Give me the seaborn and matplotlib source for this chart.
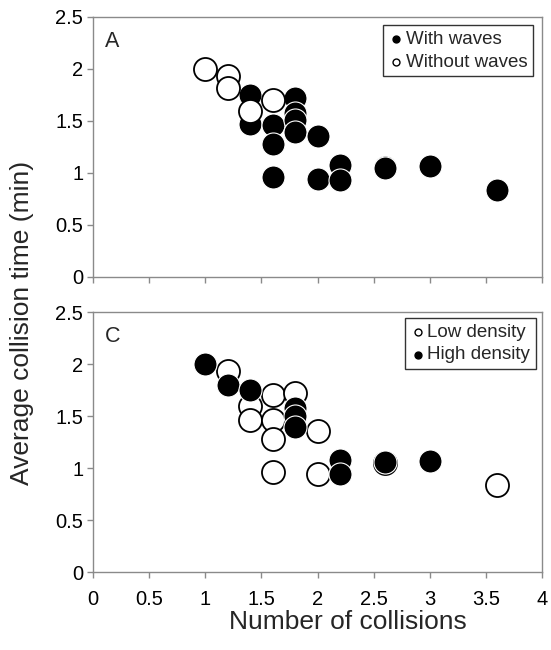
import matplotlib
matplotlib.use("Agg")
import matplotlib.pyplot as plt
import seaborn as sns
import pandas as pd

# Panel A
with_waves_x = [1.4, 1.4, 1.6, 1.6, 1.8, 1.8, 1.8, 1.8, 2.0, 1.6, 2.0, 2.2, 2.2, 2.6, 2.6, 3.0, 3.6]
with_waves_y = [1.75, 1.47, 1.46, 1.28, 1.72, 1.58, 1.51, 1.39, 1.36, 0.96, 0.94, 1.08, 0.93, 1.06, 1.05, 1.07, 0.84]
without_waves_x = [1.0, 1.2, 1.2, 1.4, 1.6]
without_waves_y = [2.0, 1.93, 1.82, 1.6, 1.7]

# Panel C
low_x = [1.2, 1.4, 1.4, 1.6, 1.6, 1.6, 1.8, 2.0, 1.6, 2.0, 2.6, 3.6]
low_y = [1.93, 1.6, 1.46, 1.7, 1.46, 1.28, 1.72, 1.36, 0.96, 0.94, 1.05, 0.84]
high_x = [1.0, 1.2, 1.4, 1.8, 1.8, 1.8, 2.2, 2.2, 2.6, 3.0]
high_y = [2.0, 1.8, 1.75, 1.58, 1.5, 1.39, 1.08, 0.94, 1.06, 1.07]

x_ticks = [0, 0.5, 1, 1.5, 2, 2.5, 3, 3.5, 4]
x_tick_labels = ["0", "0.5", "1", "1.5", "2", "2.5", "3", "3.5", "4"]
y_ticks = [0, 0.5, 1, 1.5, 2, 2.5]
y_tick_labels = ["0", "0.5", "1", "1.5", "2", "2.5"]

sns.set_theme(style="ticks")
plt.rcParams["font.family"] = ["Liberation Sans", "DejaVu Sans"]

fig = plt.figure(figsize=(5.51, 6.5), dpi=100)
W, H = 551, 650
def ax_rect(l, r, t, b):
    return [l / W, 1 - b / H, (r - l) / W, (b - t) / H]

axA = fig.add_axes(ax_rect(93, 542, 17, 277))
axC = fig.add_axes(ax_rect(93, 542, 312, 572))

S = 275
GRAY = "#8a8a8a"
TICK_FS = 14.5

def draw(ax, xs, ys, face, edge, lw, label):
    df = pd.DataFrame({"x": xs, "y": ys})
    sns.scatterplot(data=df, x="x", y="y", ax=ax, s=S, color=face,
                    edgecolor=edge, linewidth=lw, label=label, zorder=3)

draw(axA, with_waves_x, with_waves_y, "black", "white", 0.8, "With waves")
draw(axA, without_waves_x, without_waves_y, "white", "black", 1.3, "Without waves")
draw(axC, low_x, low_y, "white", "black", 1.3, "Low density")
draw(axC, high_x, high_y, "black", "white", 0.8, "High density")

for ax, lab, anchor in [(axA, "A", (0.980, 0.969)), (axC, "C", (0.9866, 0.977))]:
    ax.set_xlim(0, 4)
    ax.set_ylim(0, 2.5)
    ax.set_xticks(x_ticks)
    ax.set_yticks(y_ticks)
    ax.set_yticklabels(y_tick_labels, fontsize=TICK_FS)
    ax.set_xlabel("")
    ax.set_ylabel("")
    for sp in ax.spines.values():
        sp.set_color(GRAY)
        sp.set_linewidth(1.0)
        sp.set_visible(True)
    ax.tick_params(axis="both", direction="out", length=4, width=1.0,
                   color=GRAY, labelcolor="black", pad=3)
    ax.text(0.027, 0.945, lab, transform=ax.transAxes, fontsize=15.5,
            va="top", ha="left")
    leg = ax.legend(loc="upper right", bbox_to_anchor=anchor, borderaxespad=0,
                    fontsize=13.5, markerscale=0.3, handletextpad=0.1,
                    handlelength=0.8, borderpad=0.3, labelspacing=0.3,
                    fancybox=False, framealpha=1, edgecolor="#333333")
    leg.get_frame().set_linewidth(1.0)
    for h in leg.legend_handles:
        h.set_edgecolor("black")
        h.set_linewidth(1.0)

axA.set_xticklabels([])
axC.set_xticklabels(x_tick_labels, fontsize=TICK_FS)
axC.tick_params(axis="x", pad=9)

fig.text(348 / W, 1 - 622 / H, "Number of collisions", fontsize=19,
         ha="center", va="center")
fig.text(22 / W, 0.503, "Average collision time (min)", fontsize=19,
         ha="center", va="center", rotation=90)

fig.savefig("out.png", dpi=100, facecolor="white")
